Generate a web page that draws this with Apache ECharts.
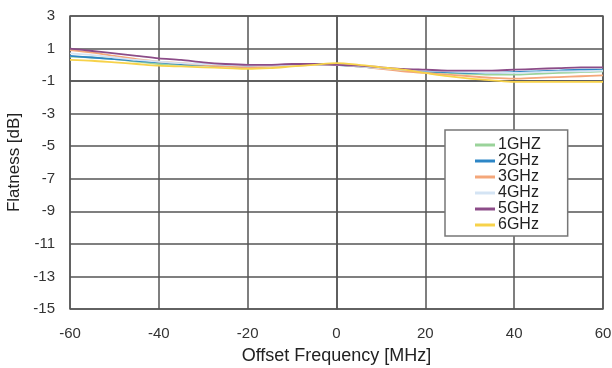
<!DOCTYPE html>
<html><head><meta charset="utf-8">
<script src="https://cdn.jsdelivr.net/npm/echarts@6/dist/echarts.min.js"></script>
<style>html,body{margin:0;padding:0;background:#fff}#c{width:612px;height:368px}</style>
</head><body><div id="c"></div>
<script>
var xVals = [-60,-55,-50,-45,-40,-35,-30,-25,-20,-15,-10,-5,0,5,10,15,20,25,30,35,40,45,50,55,60];
var seriesNames = ['1GHZ','2GHz','3GHz','4GHz','5GHz','6GHz'];
var seriesColors = ['#9ad39a','#2d86c6','#f4a77a','#d4e4f4','#8c4c88','#f7d24a'];
var s1 = [0.5,0.45,0.35,0.2,0.05,0,-0.05,-0.1,-0.15,-0.1,-0.05,0,0,-0.1,-0.2,-0.3,-0.4,-0.5,-0.55,-0.6,-0.6,-0.55,-0.5,-0.45,-0.4];
var s2 = [0.55,0.45,0.35,0.25,0.15,0.05,0,-0.05,-0.1,-0.05,0,0.05,0,-0.1,-0.2,-0.3,-0.4,-0.45,-0.5,-0.5,-0.45,-0.4,-0.35,-0.3,-0.3];
var s3 = [0.9,0.75,0.55,0.35,0.2,0.1,0,-0.1,-0.15,-0.1,-0.05,0,0,-0.1,-0.25,-0.4,-0.5,-0.6,-0.7,-0.8,-0.85,-0.8,-0.75,-0.7,-0.65];
var s4 = [0.7,0.6,0.45,0.3,0.2,0.1,0.05,0,-0.05,-0.05,0,0,0,-0.1,-0.2,-0.3,-0.35,-0.4,-0.45,-0.5,-0.5,-0.45,-0.4,-0.4,-0.35];
var s5 = [1.0,0.85,0.7,0.55,0.4,0.3,0.15,0.05,0,0,0.05,0.05,0,-0.05,-0.15,-0.25,-0.3,-0.35,-0.35,-0.35,-0.3,-0.25,-0.2,-0.15,-0.15];
var s6 = [0.3,0.25,0.15,0.05,-0.05,-0.1,-0.15,-0.2,-0.25,-0.2,-0.1,0,0.1,0,-0.15,-0.3,-0.5,-0.7,-0.85,-0.95,-1.05,-1.05,-1.05,-1.05,-1.05];
var allSeries = [s1,s2,s3,s4,s5,s6];
// y axis ticks run -15..3 step 2; shift by +1 so ECharts tick grid starts at a multiple of 2
var Y_SHIFT = 1;

var chart = echarts.init(document.getElementById('c'), null, {renderer:'canvas'});
var font = 'Liberation Sans, Arial, sans-serif';
chart.setOption({
  animation:false,
  backgroundColor:'#fff',
  grid:{left:70,right:9,top:16,bottom:59,show:true,borderColor:'#666',borderWidth:1.5,
    containLabel:false,outerBoundsMode:'none'},
  xAxis:{type:'value',min:-60,max:60,interval:20,
    name:'Offset Frequency [MHz]',nameLocation:'middle',nameGap:38,
    nameTextStyle:{fontFamily:font,fontSize:18,color:'#222'},
    axisLine:{lineStyle:{color:'#555',width:1.5}},axisTick:{show:false},
    axisLabel:{fontFamily:font,fontSize:15,color:'#333',margin:17},
    splitLine:{show:true,lineStyle:{color:'#555',width:1.5}}},
  yAxis:{type:'value',min:-15+Y_SHIFT,max:3+Y_SHIFT,interval:2,
    name:'Flatness [dB]',nameLocation:'middle',nameGap:43,
    nameTextStyle:{fontFamily:font,fontSize:17,color:'#222'},
    axisLine:{lineStyle:{color:'#555',width:1.5}},axisTick:{show:false},
    axisLabel:{fontFamily:font,fontSize:15,color:'#333',margin:15,formatter:function(v){return String(v-Y_SHIFT);}},
    splitLine:{show:true,lineStyle:{color:'#555',width:1.5}}},
  legend:{orient:'vertical',left:445,top:130,padding:[7,27,3,30],itemGap:0,
    itemWidth:20,itemHeight:3,icon:'rect',
    backgroundColor:'#fff',borderColor:'#777',borderWidth:1.5,borderRadius:0,
    textStyle:{fontFamily:font,fontSize:16,lineHeight:16,color:'#222',padding:[0,0,0,-2]},
    data:seriesNames},
  series:allSeries.map(function(arr,i){
    return {name:seriesNames[i],type:'line',showSymbol:false,smooth:0.3,
      color:seriesColors[i],lineStyle:{width:1.8,color:seriesColors[i]},
      data:arr.map(function(v,j){return [xVals[j],v+Y_SHIFT];})};
  })
});
</script></body></html>
